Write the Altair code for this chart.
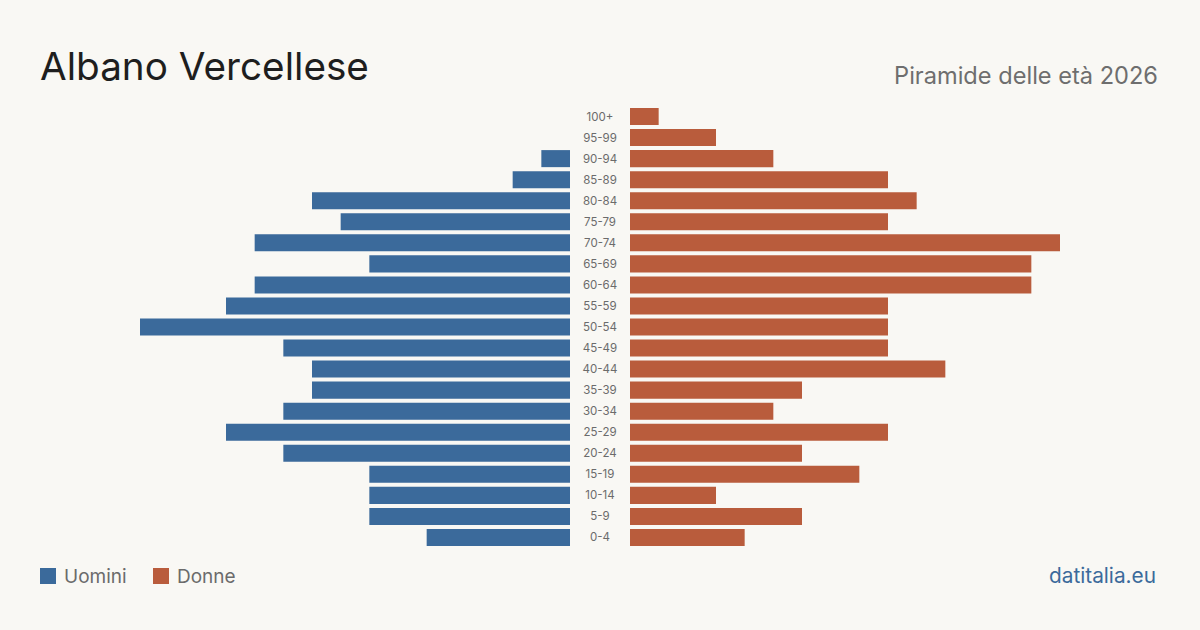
import altair as alt
import pandas as pd

# Age classes, oldest at the top
ages = ["100+", "95-99", "90-94", "85-89", "80-84", "75-79", "70-74", "65-69",
        "60-64", "55-59", "50-54", "45-49", "40-44", "35-39", "30-34", "25-29",
        "20-24", "15-19", "10-14", "5-9", "0-4"]
men = [0, 0, 1, 2, 9, 8, 11, 7, 11, 12, 15, 10, 9, 9, 10, 12, 10, 7, 7, 7, 5]
women = [1, 3, 5, 9, 10, 9, 15, 14, 14, 9, 9, 9, 11, 6, 5, 9, 6, 8, 3, 6, 4]

df = pd.DataFrame({"age": ages, "men": men, "women": women})

BLUE = "#3b6a9b"
RED = "#b95c3c"
BG = "#f9f8f4"
FONT = "Inter"

W, H = 920, 442
SIDE = 430
GAP = 60
vmax = 15

y_enc = alt.Y("age:N", sort=ages, axis=None,
              scale=alt.Scale(paddingInner=0.19, paddingOuter=0.095))

men_bars = alt.Chart(df).mark_bar(color=BLUE).encode(
    x=alt.X("men:Q", axis=None,
            scale=alt.Scale(domain=[0, vmax], range=[SIDE, 0])),
    y=y_enc,
)

women_bars = alt.Chart(df).mark_bar(color=RED).encode(
    x=alt.X("women:Q", axis=None,
            scale=alt.Scale(domain=[0, vmax], range=[SIDE + GAP, W])),
    y=y_enc,
)

age_labels = alt.Chart(df).mark_text(
    font=FONT, fontSize=11.5, color="#6b6b6b", align="center",
    baseline="middle", dy=1
).encode(
    x=alt.value(SIDE + GAP / 2),
    y=y_enc,
    text="age:N",
)

one = pd.DataFrame({"k": [0]})

title = alt.Chart(one).mark_text(
    text="Albano Vercellese", font=FONT, fontSize=38.7, color="#1e1e1e",
    align="left", baseline="alphabetic"
).encode(x=alt.value(-100), y=alt.value(-26))

subtitle = alt.Chart(one).mark_text(
    text="Piramide delle età 2026", font=FONT, fontSize=23.6, color="#6e6e6e",
    align="right", baseline="alphabetic"
).encode(x=alt.value(1018), y=alt.value(-22))

legend_men_box = alt.Chart(one).mark_rect(color=BLUE).encode(
    x=alt.value(-100), x2=alt.value(-84), y=alt.value(462), y2=alt.value(478))
legend_men_txt = alt.Chart(one).mark_text(
    text="Uomini", font=FONT, fontSize=19, color="#6b6b6b",
    align="left", baseline="alphabetic"
).encode(x=alt.value(-76), y=alt.value(477))

legend_women_box = alt.Chart(one).mark_rect(color=RED).encode(
    x=alt.value(13), x2=alt.value(29), y=alt.value(462), y2=alt.value(478))
legend_women_txt = alt.Chart(one).mark_text(
    text="Donne", font=FONT, fontSize=19, color="#6b6b6b",
    align="left", baseline="alphabetic"
).encode(x=alt.value(37), y=alt.value(477))

source = alt.Chart(one).mark_text(
    text="datitalia.eu", font=FONT, fontSize=20.8, color=BLUE,
    align="right", baseline="alphabetic"
).encode(x=alt.value(1016), y=alt.value(477))

chart = alt.layer(
    men_bars, women_bars, age_labels, title, subtitle,
    legend_men_box, legend_men_txt, legend_women_box, legend_women_txt, source,
).resolve_scale(
    x="independent"
).properties(
    width=W, height=H,
    background=BG,
    padding={"left": 140, "right": 140, "top": 106, "bottom": 82},
    autosize=alt.AutoSizeParams(type="none"),
).configure_view(
    stroke=None
)

chart.save("out.html", embed_options={"renderer": "svg", "actions": False})
